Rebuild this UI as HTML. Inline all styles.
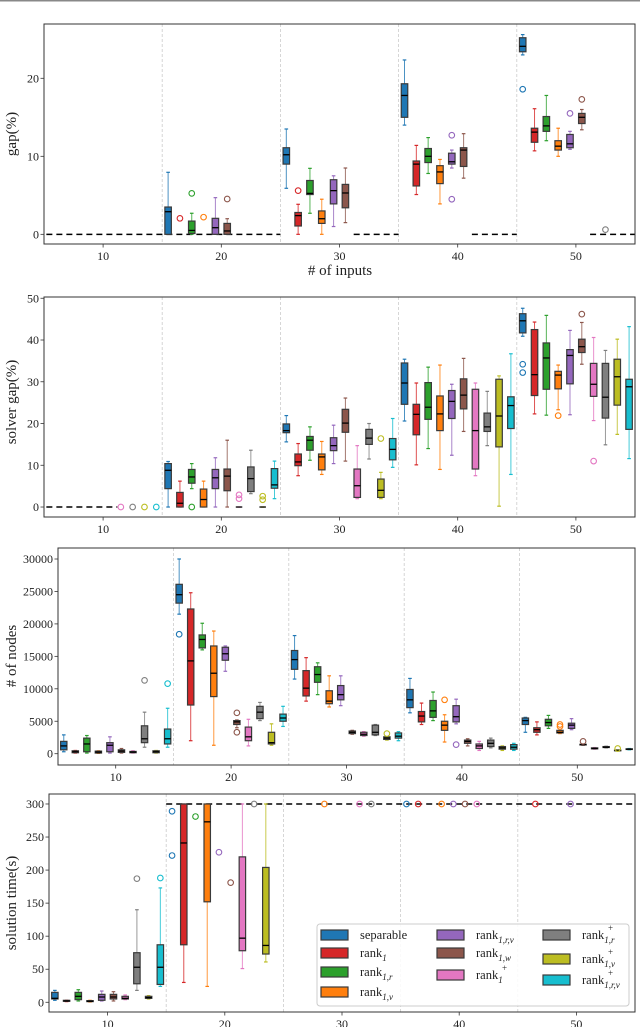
<!DOCTYPE html>
<html><head><meta charset="utf-8">
<style>
html,body{margin:0;padding:0;background:#fff;}
svg{display:block;font-family:"Liberation Serif",serif;}
</style></head>
<body>
<svg id="chart" width="640" height="1027" viewBox="0 0 640 1027" xmlns="http://www.w3.org/2000/svg">
<rect x="0" y="0" width="640" height="1.5" fill="#888"/>
</svg>
<script>
// ---- data ----
const categories = [10, 20, 30, 40, 50];
const seriesNames = ["separable","rank1","rank1r","rank1v","rank1rv","rank1w","rank1+","rank1r+","rank1v+","rank1rv+"];
const seriesColors = ["#1f77b4","#d62728","#2ca02c","#ff7f0e","#9467bd","#8c564b","#e377c2","#7f7f7f","#bcbd22","#17becf"];

// rows: [category, series, lowWhisker, q1, median, q3, highWhisker]
const gapBoxes = [
 [20,0,0,0,2.9,3.5,7.95],[20,2,0,0.1,0.5,1.7,2.7],[20,4,0,0,0.85,2.05,4.7],[20,5,0,0,0.43,1.4,2.0],
 [30,0,5.9,9.0,10.2,11.1,13.5],[30,1,0,1.07,2.4,2.8,3.85],[30,2,2.7,5.1,5.25,6.9,8.46],[30,3,0,1.4,2.0,3.0,4.5],[30,4,1,3.9,5.6,7.0,7.5],[30,5,1.5,3.4,5.3,6.4,8.5],
 [40,0,14.0,15.0,17.8,19.3,22.35],[40,1,5.1,6.2,9.0,9.4,11.4],[40,2,7.8,9.2,10,11.0,12.4],[40,3,3.9,6.5,8.0,8.8,9.6],[40,4,8.5,9.0,9.3,10.4,10.8],[40,5,7.2,8.7,10.8,11.1,12.9],
 [50,0,23,23.4,24.1,25.2,25.6],[50,1,10.7,11.8,13.1,13.6,16.1],[50,2,12,13.2,13.9,15.1,17.8],[50,3,10,10.8,11.3,12.0,13.6],[50,4,10.9,11.1,11.6,12.8,13.2],[50,5,13.4,14.2,15.0,15.5,16.0]
];
// rows: [category, series, value]
const gapOutliers = [[20,1,2.05],[20,2,5.25],[20,3,2.2],[20,5,4.53],[30,1,5.6],[40,4,12.7],[40,4,4.5],[50,0,18.6],[50,4,15.5],[50,5,17.3],[50,7,0.6]];
const gapTicks = [0,10,20];
const gapZeroSegments = [[5.2,25],[31.2,35],[41.2,45],[51.2,55]];

const solverBoxes = [
 [20,0,0,4.4,8.8,10.4,10.9],[20,1,0,0,0.9,3.5,6.2],[20,2,4.4,5.7,7.2,9,10.4],[20,3,0,0,1.8,4.3,6.2],[20,4,0,4.4,7,9,11.8],[20,5,0,3.9,7.4,9.1,16],[20,6,0,0,0,0,0],[20,7,3.2,3.7,6.8,9.6,13.6],[20,8,0,0,0,0,0],[20,9,2,4.5,5.3,9.2,11],
 [30,0,15.6,17.8,18.3,19.9,21.9],[30,1,7.5,9.9,10.8,12.7,15.2],[30,2,11.2,13.6,16,16.9,19.2],[30,3,7.8,8.9,12,12.7,15.7],[30,4,10.4,13.5,14.7,16.6,19.6],[30,5,11,17.9,20.1,23.4,26.1],[30,6,2,2.3,5.1,9.1,14.7],[30,7,11.5,15,16.5,18.6,20],[30,8,2,2.3,4,6.7,8.3],[30,9,9.5,11.3,13.8,16.4,21.2],
 [40,0,20.6,24.6,29.7,34.5,35.4],[40,1,10.1,17.3,22.2,24.6,29.7],[40,2,14,21,23.9,29.8,33.5],[40,3,9,18.3,22.3,26.6,34],[40,4,12.4,21.2,25.3,27.9,29.4],[40,5,18.1,23.5,26.8,30.7,35.6],[40,6,7.5,9.1,18.3,28.2,29.7],[40,7,14.7,18.1,19.2,22.5,27.7],[40,8,0.2,14.4,21.8,30.6,31.4],[40,9,7.8,18.8,24.3,26.4,36.7],
 [50,0,40.9,41.7,44.6,46.3,47.6],[50,1,22.3,26.7,31.7,42.5,44.3],[50,2,22,28.2,35.7,39.3,45.9],[50,3,23.3,28.3,31.6,32.5,34],[50,4,22.1,29.5,36.3,37.7,42.3],[50,5,34.2,37,38.4,40.2,44.2],[50,6,20.7,26.5,29.4,34.4,40.6],[50,7,14.9,21.3,26.3,34.4,37.5],[50,8,17.4,24.4,31.2,35.4,40.2],[50,9,11.6,18.6,28.8,30.6,43.2]
];
const solverOutliers = [[10,6,0],[10,7,0],[10,8,0],[10,9,0],[20,2,0],[20,6,2.0],[20,6,2.9],[20,8,1.75],[20,8,2.6],[30,8,16.4],[50,0,34.2],[50,0,32.2],[50,3,21.9],[50,5,46.2],[50,6,11]];
const solverTicks = [0,10,20,30,40,50];
const solverZeroSegments = [[5.2,11.2]];

const nodeBoxes = [
 [10,0,300,600,1200,1900,2900],[10,1,100,150,300,450,500],[10,2,100,300,1500,2400,2800],[10,3,50,100,250,400,450],[10,4,100,300,1300,1700,2600],[10,5,100,200,400,600,800],[10,6,100,150,250,350,450],[10,7,1000,1700,2300,4300,6400],[10,8,100,150,300,450,500],[10,9,1000,1500,2300,3800,7000],
 [20,0,21500,23200,24500,26100,30000],[20,1,2000,7500,14300,22300,24800],[20,2,16000,16300,17600,18300,20100],[20,3,1300,8800,12400,16600,18900],[20,4,12700,14400,15400,16400,16600],[20,5,4000,4500,4900,5100,5200],[20,6,1200,2000,2600,4100,5300],[20,7,5100,5400,6400,7300,7900],[20,8,1300,1500,1700,3300,4600],[20,9,4200,5000,5500,6100,7300],
 [30,0,11500,13000,14500,15900,18200],[30,1,8100,8900,10100,12800,14800],[30,2,9100,11000,12200,13400,14000],[30,3,7200,7700,8100,9700,12000],[30,4,7400,8300,9100,10500,12000],[30,5,3000,3100,3300,3500,3600],[30,6,2700,2800,3000,3300,3400],[30,7,2800,2900,3300,4400,4500],[30,8,2100,2200,2400,2600,2600],[30,9,2000,2400,2700,3200,3400],
 [40,0,6300,7100,8300,9900,11600],[40,1,4500,4900,5800,6500,7800],[40,2,5100,5600,6600,8200,9500],[40,3,1800,3600,4400,5000,6000],[40,4,4600,4900,5700,7400,8400],[40,5,1200,1600,1900,2100,2300],[40,6,500,800,1200,1500,1900],[40,7,900,1100,1600,2100,2400],[40,8,500,700,900,1100,1200],[40,9,500,700,1000,1400,1600],
 [50,0,3300,4500,5100,5500,5600],[50,1,2900,3300,3700,4000,4900],[50,2,3900,4300,4800,5300,5900],[50,3,3100,3200,3300,3600,3600],[50,4,3700,3900,4400,4700,5400],[50,5,1300,1350,1400,1450,1500],[50,6,700,750,800,900,950],[50,7,900,950,1000,1100,1150],[50,8,400,450,500,550,600],[50,9,600,650,700,750,800]
];
const nodeOutliers = [[10,7,11300],[10,9,10800],[20,0,18400],[20,5,6300],[20,5,3300],[30,8,3100],[40,3,8300],[40,4,1400],[50,3,4200],[50,3,4500],[50,5,1900],[50,8,800]];
const nodeTicks = [0,5000,10000,15000,20000,25000,30000];

const timeBoxes = [
 [10,0,3,5,6,15,18],[10,1,1,1.5,2,3,3],[10,2,2,4,9,15,19],[10,3,0.5,1,1.5,2.5,3],[10,4,2,3,8,12,17],[10,5,2,5,8,12,16],[10,6,4,5,6,9,11],[10,7,18,28,53,75,140],[10,8,5,6,7,9,10],[10,9,24,27,53,87,173],
 [20,1,30,87,241,300,300],[20,3,24,152,273,300,300],[20,6,51,78,97,220,300],[20,8,61,73,86,204,300]
];
const timeOutliers = [[10,7,187],[10,9,188],[20,0,222],[20,0,289],[20,2,281],[20,4,227],[20,5,181],[20,7,300],
 [30,3,300],[30,6,300],[30,7,300],[40,0,300],[40,1,300],[40,3,300],[40,4,300],[40,5,300],[40,6,300],[50,1,300],[50,4,300]];
const timeTicks = [0,50,100,150,200,250,300];
const timeLimitSegments = [[15,55]];

// ---- drawing ----
const NS = "http://www.w3.org/2000/svg";
const svg = document.getElementById("chart");
function mk(tag, attrs, parent) {
  const e = document.createElementNS(NS, tag);
  for (const k in attrs) e.setAttribute(k, attrs[k]);
  (parent || svg).appendChild(e);
  return e;
}

function drawPanel(cfg) {
  const g = mk("g", {});
  
  
  const sx = v => cfg.left + (v - 5) / 50 * (cfg.right - cfg.left);
  const sy = v => cfg.bottom - (v - cfg.ymin) / (cfg.ymax - cfg.ymin) * (cfg.bottom - cfg.top);
  const pos = (c, s) => c - 4.5 + s;
  const bw = 0.55 * (cfg.right - cfg.left) / 50;

  // group separators
  [15,25,35,45].forEach(v => {
    const l = mk("line", {x1:sx(v), x2:sx(v), y1:cfg.top, y2:cfg.bottom, stroke:"#ccc", "stroke-width":0.8, "stroke-dasharray":"3,2"}, g);
    
    
  });
  // reference dashed segments
  (cfg.segments || []).forEach(sg => {
    const l = mk("line", {x1:sx(sg[0]), x2:sx(sg[1]), y1:sy(cfg.segY), y2:sy(cfg.segY), stroke:"#000", "stroke-width":1.5, "stroke-dasharray":"6,4"}, g);
    
    
  });
  // boxes
  cfg.boxes.forEach(b => {
    const [c, s, lo, q1, med, q3, hi] = b;
    const x = sx(pos(c, s)), col = seriesColors[s];
    const bg = mk("g", {}, g);
    
    
    mk("line", {x1:x, x2:x, y1:sy(lo), y2:sy(q1), stroke:col, "stroke-width":1, "stroke-opacity":0.8}, bg);
    mk("line", {x1:x, x2:x, y1:sy(q3), y2:sy(hi), stroke:col, "stroke-width":1, "stroke-opacity":0.8}, bg);
    mk("line", {x1:x-1.8, x2:x+1.8, y1:sy(lo), y2:sy(lo), stroke:col, "stroke-width":1.2}, bg);
    mk("line", {x1:x-1.8, x2:x+1.8, y1:sy(hi), y2:sy(hi), stroke:col, "stroke-width":1.2}, bg);
    mk("rect", {x:x-bw/2, y:sy(q3), width:bw, height:Math.max(0, sy(q1)-sy(q3)), fill:col, stroke:"#3a3a3a", "stroke-width":1.2}, bg);
    mk("line", {x1:x-bw/2, x2:x+bw/2, y1:sy(med), y2:sy(med), stroke:"#000", "stroke-width":1.3}, bg);
  });
  cfg.outliers.forEach(o => {
    const [c, s, v] = o;
    const ci = mk("circle", {cx:sx(pos(c, s)), cy:sy(v), r:2.8, fill:"none", stroke:seriesColors[s], "stroke-width":1.1}, g);
    
    
  });
  // frame
  const fr = mk("rect", {x:cfg.left, y:cfg.top, width:cfg.right-cfg.left, height:cfg.bottom-cfg.top, fill:"none", stroke:"#333", "stroke-width":1}, g);
  
  
  // y ticks
  cfg.ticks.forEach(t => {
    mk("line", {x1:cfg.left-3.5, x2:cfg.left, y1:sy(t), y2:sy(t), stroke:"#333", "stroke-width":0.8}, g);
    const tx = mk("text", {x:cfg.left-5, y:sy(t)+4, "text-anchor":"end", "font-size":12, fill:"#222"}, g);
    tx.textContent = t;
    
    
  });
  // x ticks
  categories.forEach(c => {
    mk("line", {x1:sx(c), x2:sx(c), y1:cfg.bottom, y2:cfg.bottom+3.5, stroke:"#333", "stroke-width":0.8}, g);
    const tx = mk("text", {x:sx(c), y:cfg.bottom+16, "text-anchor":"middle", "font-size":12, fill:"#222"}, g);
    tx.textContent = c;
    
    
  });
  const yt = mk("text", {x:0, y:0, transform:"translate(" + cfg.ylx + "," + cfg.yly + ") rotate(-90)", "text-anchor":"middle", "font-size":15, fill:"#222"}, g);
  yt.textContent = cfg.ylabel;
  
  
}

drawPanel({name:"gap-panel", left:44, right:635, top:24, bottom:244, ymin:-1.24, ymax:26.96, boxes:gapBoxes, outliers:gapOutliers, ticks:gapTicks, segments:gapZeroSegments, segY:0, ylabel:"gap(%)", ylx:16, yly:134});
drawPanel({name:"solver-gap-panel", left:44, right:635, top:297, bottom:517, ymin:-2.39, ymax:50.3, boxes:solverBoxes, outliers:solverOutliers, ticks:solverTicks, segments:solverZeroSegments, segY:0, ylabel:"solver gap(%)", ylx:16, yly:402});
drawPanel({name:"nodes-panel", left:58, right:635, top:548, bottom:765, ymin:-1741, ymax:31695, boxes:nodeBoxes, outliers:nodeOutliers, ticks:nodeTicks, segments:[], segY:0, ylabel:"# of nodes", ylx:16, yly:656});
drawPanel({name:"time-panel", left:49, right:635, top:794, bottom:1012, ymin:-14.7, ymax:315.1, boxes:timeBoxes, outliers:timeOutliers, ticks:timeTicks, segments:timeLimitSegments, segY:300, ylabel:"solution time(s)", ylx:16, yly:903});

const xt = mk("text", {x:340, y:275, "text-anchor":"middle", "font-size":15, fill:"#222"});
xt.textContent = "# of inputs";



// legend
const lg = mk("g", {});


mk("rect", {x:317, y:924, width:312, height:82, rx:3, fill:"#fff", "fill-opacity":0.85, stroke:"#ccc", "stroke-width":1}, lg);
const legendItems = [
 [0,321,935,"separable",null,null],[1,321,953,"rank","1",null],[2,321,972,"rank","1,r",null],[3,321,992,"rank","1,v",null],
 [4,437,935,"rank","1,r,v",null],[5,437,953,"rank","1,w",null],[6,437,975,"rank","1","+"],
 [7,543,935,"rank","1,r","+"],[8,543,959,"rank","1,v","+"],[9,543,980,"rank","1,r,v","+"]
];
legendItems.forEach(it => {
  const [s, x, y, base, sub, sup] = it;
  const eg = mk("g", {}, lg);
  
  
  mk("rect", {x:x, y:y-5, width:27, height:10, fill:seriesColors[s], stroke:"#3a3a3a", "stroke-width":1.2}, eg);
  const t = mk("text", {x:x+39, y:y+4, "font-size":12.5, fill:"#222"}, eg);
  const a = mk("tspan", {}, t); a.textContent = base;
  if (sub) { const b = mk("tspan", {dy:4, "font-size":9, "font-style":"italic"}, t); b.textContent = sub; }
  if (sup) { const c = mk("tspan", {x:x+39+26, dy: sub ? -12 : -6, "font-size":9}, t); c.textContent = sup; }
});
</script>
</body></html>
